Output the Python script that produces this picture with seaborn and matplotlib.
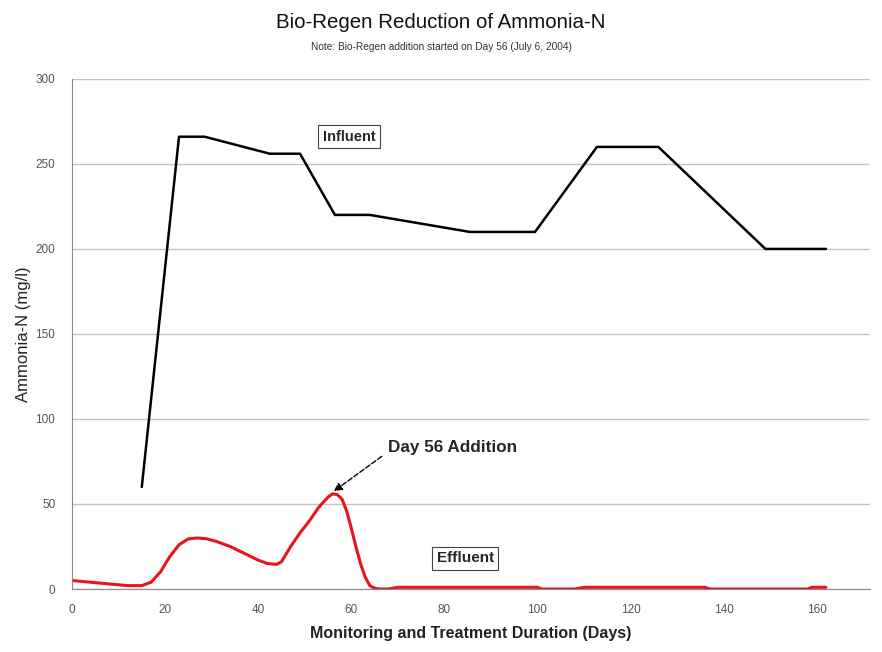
import pandas as pd
import matplotlib.pyplot as plt
import seaborn as sns

# Influent readings (day, mg/l)
influent_days = [15, 23, 28.5, 42.5, 49, 56.5, 64, 85.5, 99.5, 112.8, 126, 149, 162]
influent_vals = [60, 266, 266, 256, 256, 220, 220, 210, 210, 260, 260, 200, 200]

# Effluent readings (day, mg/l)
effluent_days = [0, 4, 8, 12, 15, 17, 19, 21, 23, 25, 27, 29, 31, 34, 37, 40, 42, 44, 45, 47,
                 49, 51, 53, 55, 56, 57, 58, 59, 60, 61, 62, 63, 64, 65, 66, 68, 70, 80, 90,
                 100, 101, 108, 110, 120, 130, 136, 137, 150, 158, 159, 162]
effluent_vals = [5, 4, 3, 2, 2, 4, 10, 19, 26, 29.5, 30, 29.5, 28, 25, 21, 17, 15, 14.5, 16, 25,
                 33, 40, 48, 54, 56, 55.5, 53, 46, 36, 25, 15, 7, 2, 0.5, 0, 0, 1, 1, 1,
                 1, 0, 0, 1, 1, 1, 1, 0, 0, 0, 1, 1]

inf = pd.DataFrame({"Day": influent_days, "Ammonia": influent_vals})
eff = pd.DataFrame({"Day": effluent_days, "Ammonia": effluent_vals})

sns.set_style("white")
plt.rcParams["font.family"] = ["Liberation Sans", "DejaVu Sans"]

fig = plt.figure(figsize=(8.82, 6.52), dpi=100)
ax = fig.add_axes([0.0816, 0.0966, 0.9044, 0.7824])

sns.lineplot(data=inf, x="Day", y="Ammonia", sort=False, color="black", linewidth=1.8, ax=ax)
sns.lineplot(data=eff, x="Day", y="Ammonia", sort=False, color="#e8141c", linewidth=2.2, ax=ax)

ax.set_xlim(0, 171.4)
ax.set_ylim(0, 300)
ax.set_xticks(range(0, 161, 20))
ax.set_yticks(range(0, 301, 50))
ax.yaxis.grid(True, color="#c4c4c4", linewidth=1)
ax.set_axisbelow(True)
for s in ["top", "right"]:
    ax.spines[s].set_visible(False)
for s in ["left", "bottom"]:
    ax.spines[s].set_color("#888888")
ax.tick_params(axis="both", labelsize=8.5, colors="#555555", length=3)
ax.tick_params(axis="x", pad=8)
ax.tick_params(axis="y", pad=9)

ax.set_xlabel("Monitoring and Treatment Duration (Days)", fontsize=11.5, fontweight="bold", color="#222222", labelpad=7)
ax.set_ylabel("Ammonia-N (mg/l)", fontsize=12, color="#222222", labelpad=3)

fig.text(0.5, 0.965, "Bio-Regen Reduction of Ammonia-N", ha="center", va="center", fontsize=14.8, color="#111111")
fig.text(0.5, 0.928, "Note: Bio-Regen addition started on Day 56 (July 6, 2004)", ha="center", va="center", fontsize=7.3, color="#333333")

box = dict(boxstyle="square,pad=0.3", facecolor="white", edgecolor="#444444", linewidth=0.8)
ax.text(59.5, 266, "Influent", fontsize=10.5, fontweight="bold", ha="center", va="center", bbox=box)
ax.text(84.5, 18, "Effluent", fontsize=11, fontweight="bold", ha="center", va="center", bbox=box)
ax.annotate("Day 56 Addition", xy=(56, 57), xytext=(68, 83.5), fontsize=12.3, fontweight="bold",
            ha="left", va="center",
            arrowprops=dict(arrowstyle="-|>", color="black", linestyle="--", linewidth=1,
                            relpos=(0, 0.2), shrinkA=3, shrinkB=1))

fig.savefig("out.png", dpi=100)
